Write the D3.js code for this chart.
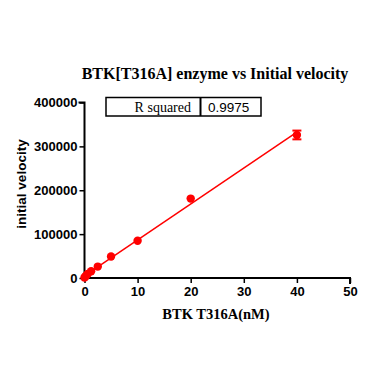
<!DOCTYPE html>
<html>
<head>
<meta charset="utf-8">
<script src="https://cdn.jsdelivr.net/npm/d3@7"></script>
<style>
  body { margin: 0; background: #fff; }
  svg { display: block; }
</style>
</head>
<body>
<div id="chart"></div>
<script>
// enzyme concentration (nM) and initial velocity readings
var conc = [0, 0.156, 0.3125, 0.625, 1.25, 2.5, 5, 10, 20, 40];
var velocity = [1000, 3000, 5500, 9500, 15500, 26000, 49000, 85000, 181000, 326000];
var velocityErr = [0, 0, 0, 0, 0, 0, 0, 0, 0, 10000];
var xTicks = [0, 10, 20, 30, 40, 50];
var yTicks = [0, 100000, 200000, 300000, 400000];
var rSquared = "0.9975";

var width = 391, height = 391;
var svg = d3.select("#chart").append("svg")
  .attr("width", width)
  .attr("height", height);

var x = d3.scaleLinear().domain([0, 50]).range([84.5, 350]);
var y = d3.scaleLinear().domain([0, 400000]).range([278, 102.5]);

var red = "#ff0000";

//axes
var xAxis = svg.append("g")
  .attr("transform", "translate(0," + y(0) + ")")
  .call(d3.axisBottom(x).tickValues(xTicks).tickSize(5).tickPadding(4).tickFormat(d3.format("d")));
var yAxis = svg.append("g")
  .attr("transform", "translate(" + x(0) + ",0)")
  .call(d3.axisLeft(y).tickValues(yTicks).tickSize(5).tickPadding(2).tickFormat(d3.format("d")));

[xAxis, yAxis].forEach(function (a) {
  a.select(".domain").attr("stroke", "#000").attr("stroke-width", 2);
  a.selectAll(".tick line").attr("stroke", "#000").attr("stroke-width", 1.5);
  a.selectAll(".tick text")
    .attr("fill", "#000")
    .style("font-family", "'Liberation Sans', Arial, sans-serif")
    .style("font-weight", "bold")
    .style("font-size", "13px");
});
// extend x domain line to meet y axis
xAxis.select(".domain").attr("d", "M" + (x(0) - 1) + ",0H" + x(50) + "V6");
yAxis.select(".domain").attr("d", "M-6," + y(400000) + "H0V" + (y(0) + 1));

//linear regression fit
var mx = d3.mean(conc), my = d3.mean(velocity);
var sxy = d3.sum(conc, function (d, i) { return (d - mx) * (velocity[i] - my); });
var sxx = d3.sum(conc, function (d) { return (d - mx) * (d - mx); });
var slope = sxy / sxx, intercept = my - slope * mx;

svg.append("line")
  .attr("x1", x(0)).attr("y1", y(intercept))
  .attr("x2", x(40)).attr("y2", y(intercept + slope * 40))
  .attr("stroke", red).attr("stroke-width", 1.5);

//error bars
conc.forEach(function (c, i) {
  if (!velocityErr[i]) return;
  var g = svg.append("g").attr("stroke", red).attr("stroke-width", 2);
  g.append("line").attr("x1", x(c)).attr("x2", x(c))
    .attr("y1", y(velocity[i] - velocityErr[i])).attr("y2", y(velocity[i] + velocityErr[i]));
  [velocity[i] - velocityErr[i], velocity[i] + velocityErr[i]].forEach(function (v) {
    g.append("line").attr("x1", x(c) - 4.5).attr("x2", x(c) + 4.5)
      .attr("y1", y(v)).attr("y2", y(v));
  });
});

//points
svg.selectAll("circle.pt").data(conc).enter().append("circle")
  .attr("class", "pt")
  .attr("cx", function (d) { return x(d); })
  .attr("cy", function (d, i) { return y(velocity[i]); })
  .attr("r", 4.2)
  .attr("fill", red);

//title and labels
svg.append("text")
  .attr("x", 215).attr("y", 79)
  .attr("text-anchor", "middle")
  .style("font-family", "'Liberation Serif', 'Times New Roman', serif")
  .style("font-weight", "bold")
  .style("font-size", "16px")
  .text("BTK[T316A] enzyme vs Initial velocity");

svg.append("text")
  .attr("x", 216).attr("y", 319)
  .attr("text-anchor", "middle")
  .style("font-family", "'Liberation Serif', 'Times New Roman', serif")
  .style("font-weight", "bold")
  .style("font-size", "14.5px")
  .text("BTK T316A(nM)");

svg.append("text")
  .attr("transform", "translate(26," + 184 + ")rotate(-90)")
  .attr("text-anchor", "middle")
  .style("font-family", "'Liberation Sans', Arial, sans-serif")
  .style("font-weight", "bold")
  .style("font-size", "13.5px")
  .text("initial velocity");

//R squared table
var tbl = svg.append("g");
tbl.append("rect")
  .attr("x", 106).attr("y", 97.5).attr("width", 155).attr("height", 18.5)
  .attr("fill", "none").attr("stroke", "#000").attr("stroke-width", 1.5);
tbl.append("line")
  .attr("x1", 200.5).attr("x2", 200.5).attr("y1", 97.5).attr("y2", 116)
  .attr("stroke", "#000").attr("stroke-width", 2);
tbl.append("text")
  .attr("x", 191).attr("y", 111.5).attr("text-anchor", "end")
  .style("font-family", "'Liberation Serif', 'Times New Roman', serif")
  .style("font-size", "14px")
  .text("R squared");
tbl.append("text")
  .attr("x", 208).attr("y", 111.5)
  .style("font-family", "'Liberation Sans', Arial, sans-serif")
  .style("font-size", "13.5px")
  .text(rSquared);
</script>
</body>
</html>
